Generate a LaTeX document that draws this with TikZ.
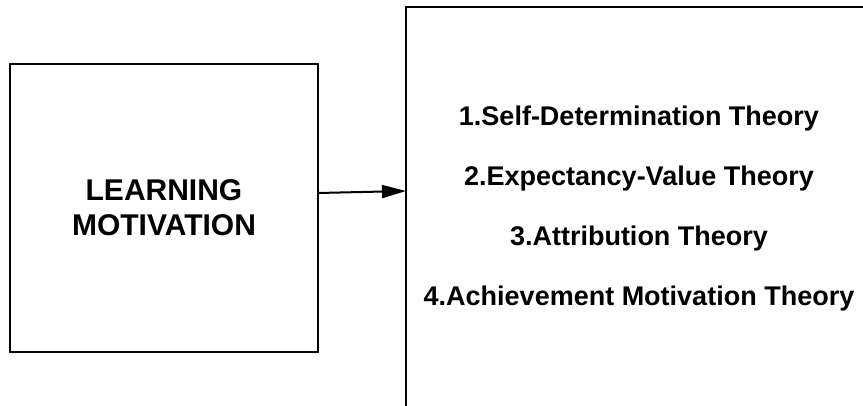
\documentclass[tikz,border=0pt]{standalone}
\usepackage{fontspec}
\setmainfont{Liberation Sans}
\usetikzlibrary{arrows.meta}

\tikzset{
    framebox/.style={draw, line width=2.5pt, inner sep=0pt, outer sep=0pt},
    motivtext/.style={font=\bfseries\fontsize{30}{35}\selectfont, align=center},
    theorytext/.style={font=\bfseries\fontsize{27}{32}\selectfont, anchor=base},
    linkarrow/.style={line width=2pt, -{Triangle[length=24pt, width=13pt]}}
}

\begin{document}
\begin{tikzpicture}[x=1pt, y=-1pt]

    % Page frame
    \useasboundingbox (0,0) rectangle (863,405);
    \clip (0,0) rectangle (863,405);

    % Draw the left box with its label
    \node[framebox, minimum width=308pt, minimum height=288pt] (motiv) at (164,208) {};
    \node[motivtext] (motivlabel) at (motiv.center) {LEARNING\\MOTIVATION};

    % Draw the right box (it runs past the page edge)
    \node[framebox, minimum width=494pt, minimum height=413pt] (theories) at (653,213.5) {};

    % List of theories
    \foreach \i/\t in {1/Self-Determination Theory, 2/Expectancy-Value Theory,
                       3/Attribution Theory, 4/Achievement Motivation Theory} {
        \node[theorytext] (theory\i) at (639, 125 + 60*\i - 60) {\i.\t};
    }

    % Connect the two boxes
    \draw[linkarrow] ([yshift=15pt]motiv.east) -- ([yshift=22.5pt]theories.west);

\end{tikzpicture}
\end{document}
